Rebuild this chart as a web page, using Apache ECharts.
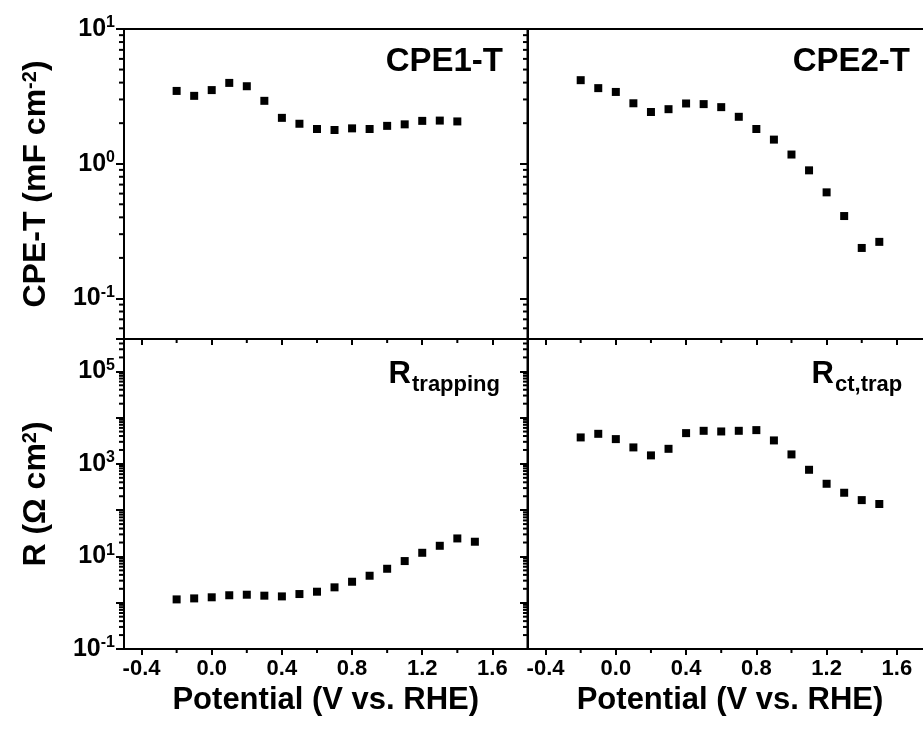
<!DOCTYPE html>
<html>
<head>
    <meta charset="utf-8"/>
    <title>CPE-T and R vs potential</title>
    <script src="https://cdn.jsdelivr.net/npm/echarts@6/dist/echarts.min.js"></script>
    <style>
        html, body { margin: 0; padding: 0; background: #fff; }
        #main { width: 923px; height: 733px; }
    </style>
</head>
<body>
<div id="main"></div>
<script type="text/javascript">
    // data
    var potential = [-0.2, -0.1, 0.0, 0.1, 0.2, 0.3, 0.4, 0.5, 0.6, 0.7, 0.8, 0.9, 1.0, 1.1, 1.2, 1.3, 1.4, 1.5];
    var cpe1T = [3.47, 3.19, 3.52, 3.98, 3.76, 2.93, 2.19, 1.98, 1.81, 1.78, 1.83, 1.81, 1.91, 1.96, 2.08, 2.09, 2.06];
    var cpe2T = [4.17, 3.64, 3.41, 2.81, 2.42, 2.54, 2.80, 2.77, 2.63, 2.23, 1.81, 1.51, 1.17, 0.893, 0.613, 0.409, 0.237, 0.263];
    var rTrapping = [1.18, 1.24, 1.31, 1.45, 1.49, 1.42, 1.37, 1.54, 1.73, 2.15, 2.84, 3.83, 5.42, 7.95, 12.0, 17.0, 24.5, 20.8];
    var rCtTrap = [3733, 4467, 3433, 2271, 1527, 2118, 4624, 5188, 5023, 5188, 5370, 3215, 1603, 746, 372, 238, 165, 136];

    // axis ticks
    var xMajorTicks = [-0.4, 0.0, 0.4, 0.8, 1.2, 1.6];
    var xMinorTicks = [-0.2, 0.2, 0.6, 1.0, 1.4];
    var logExponents = [-2, -1, 0, 1, 2, 3, 4, 5];
    var logMultipliers = [2, 3, 4, 5, 6, 7, 8, 9];

    var FONT = '"Liberation Sans", Arial, sans-serif';
    var X_MIN = -0.5, X_MAX = 1.8;

    var panels = [
        {left: 124, top: 29, width: 403.5, yMin: 0.05, yMax: 10, values: cpe1T, leftCol: true, bottomRow: false, oddOnly: false},
        {left: 528, top: 29, width: 404, yMin: 0.05, yMax: 10, values: cpe2T, leftCol: false, bottomRow: false, oddOnly: false},
        {left: 124, top: 339, width: 403.5, yMin: 0.1, yMax: 500000, values: rTrapping, leftCol: true, bottomRow: true, oddOnly: true},
        {left: 528, top: 339, width: 404, yMin: 0.1, yMax: 500000, values: rCtTrap, leftCol: false, bottomRow: true, oddOnly: true}
    ];

    var supRich = {
        b: {fontSize: 25, fontWeight: 'bold', fontFamily: FONT, color: '#000', lineHeight: 28},
        s: {fontSize: 16, fontWeight: 'bold', fontFamily: FONT, color: '#000', lineHeight: 16, verticalAlign: 'top'}
    };
    var titleRich = {
        b: {fontSize: 32, fontWeight: 'bold', fontFamily: FONT, color: '#000', lineHeight: 36},
        s: {fontSize: 20, fontWeight: 'bold', fontFamily: FONT, color: '#000', lineHeight: 20, verticalAlign: 'top'}
    };

    function decadeLabel(value, oddOnly) {
        var lg = Math.log(value) / Math.LN10;
        var e = Math.round(lg);
        if (Math.abs(lg - e) > 1e-6) return '';
        if (oddOnly && Math.abs(e % 2) !== 1) return '';
        return '{b|10}{s|' + e + '}';
    }

    function minorTickSeries(i, p) {
        var items = [];
        xMinorTicks.forEach(function (v) { items.push([v, p.yMin, 0]); });
        logExponents.forEach(function (e) {
            logMultipliers.forEach(function (m) {
                var v = m * Math.pow(10, e);
                if (v > p.yMin * 1.0001 && v < p.yMax * 0.9999) items.push([X_MIN, v, 1]);
            });
        });
        return {
            type: 'custom', xAxisIndex: i, yAxisIndex: i, silent: true, clip: false, z: 5,
            data: items,
            encode: {x: 0, y: 1},
            renderItem: function (params, api) {
                var pt = api.coord([api.value(0), api.value(1)]);
                var shape = api.value(2) === 0
                    ? {x1: pt[0], y1: pt[1], x2: pt[0], y2: pt[1] + 4}
                    : {x1: pt[0], y1: pt[1], x2: pt[0] - 5, y2: pt[1]};
                return {type: 'line', shape: shape, style: {stroke: '#000', lineWidth: 2}};
            }
        };
    }

    var series = [];
    panels.forEach(function (p, i) {
        series.push({
            type: 'scatter', xAxisIndex: i, yAxisIndex: i,
            symbol: 'rect', symbolSize: 8,
            itemStyle: {color: '#000', opacity: 1},
            data: p.values.map(function (v, k) { return [potential[k], v]; })
        });
        series.push(minorTickSeries(i, p));
    });

    var option = {
        animation: false,
        backgroundColor: '#fff',
        grid: panels.map(function (p) {
            return {
                left: p.left, top: p.top, width: p.width, height: 310,
                show: true, borderColor: '#000', borderWidth: 2,
                containLabel: false, outerBoundsMode: 'none'
            };
        }),
        xAxis: panels.map(function (p, i) {
            return {
                type: 'value', gridIndex: i, min: X_MIN, max: X_MAX, position: 'bottom',
                axisLine: {show: true, onZero: false, lineStyle: {color: '#000', width: 2}},
                axisTick: {show: true, inside: false, length: 6, customValues: xMajorTicks,
                    lineStyle: {color: '#000', width: 2}},
                axisLabel: {show: p.bottomRow, customValues: xMajorTicks, margin: 9,
                    formatter: function (v) { return v.toFixed(1); },
                    color: '#000', fontSize: 22, fontWeight: 'bold', fontFamily: FONT},
                splitLine: {show: false},
                name: p.bottomRow ? 'Potential (V vs. RHE)' : '',
                nameLocation: 'middle', nameGap: 36,
                nameTextStyle: {color: '#000', fontSize: 31, fontWeight: 'bold', fontFamily: FONT}
            };
        }),
        yAxis: panels.map(function (p, i) {
            return {
                type: 'log', logBase: 10, gridIndex: i, min: p.yMin, max: p.yMax, position: 'left',
                axisLine: {show: true, onZero: false, lineStyle: {color: '#000', width: 2}},
                axisTick: {show: true, inside: false, length: 8, lineStyle: {color: '#000', width: 2}},
                axisLabel: {show: p.leftCol, margin: 9, rich: supRich,
                    formatter: function (v) { return decadeLabel(v, p.oddOnly); }},
                splitLine: {show: false},
                name: p.leftCol ? (p.bottomRow ? 'R (\u03A9 cm{s|2})' : 'CPE-T (mF cm{s|-2})') : '',
                nameLocation: 'middle', nameRotate: 90, nameGap: 72,
                nameTextStyle: {rich: titleRich, fontSize: 32, fontWeight: 'bold', fontFamily: FONT, color: '#000'}
            };
        }),
        graphic: [
            {type: 'text', x: 503, y: 62, z: 10, style: {text: 'CPE1-T', align: 'right', verticalAlign: 'middle',
                font: 'bold 33px ' + FONT, fill: '#000'}},
            {type: 'text', x: 910, y: 62, z: 10, style: {text: 'CPE2-T', align: 'right', verticalAlign: 'middle',
                font: 'bold 33px ' + FONT, fill: '#000'}},
            {type: 'text', x: 411, y: 374, z: 10, style: {text: 'R', align: 'right', verticalAlign: 'middle',
                font: 'bold 31px ' + FONT, fill: '#000'}},
            {type: 'text', x: 412, y: 385, z: 10, style: {text: 'trapping', align: 'left', verticalAlign: 'middle',
                font: 'bold 22px ' + FONT, fill: '#000'}},
            {type: 'text', x: 834, y: 374, z: 10, style: {text: 'R', align: 'right', verticalAlign: 'middle',
                font: 'bold 31px ' + FONT, fill: '#000'}},
            {type: 'text', x: 835, y: 385, z: 10, style: {text: 'ct,trap', align: 'left', verticalAlign: 'middle',
                font: 'bold 22px ' + FONT, fill: '#000'}}
        ],
        series: series
    };

    var myChart = echarts.init(document.getElementById('main'));
    myChart.setOption(option);
</script>
</body>
</html>
